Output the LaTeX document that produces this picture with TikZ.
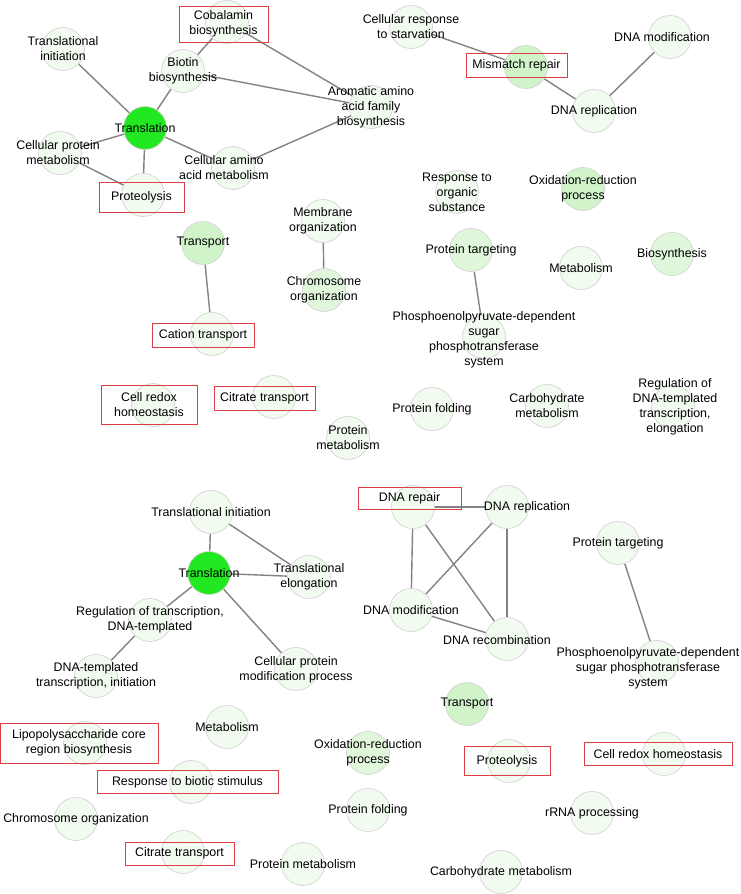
\documentclass[tikz,border=0pt]{standalone}
\usepackage{fontspec}
\setmainfont{Liberation Sans}
\usetikzlibrary{backgrounds}

\definecolor{hitgreen}{RGB}{34,232,34}
\definecolor{midgreen}{RGB}{208,243,202}
\definecolor{lowgreen}{RGB}{224,247,220}
\definecolor{palegreen}{RGB}{242,251,240}
\definecolor{ringgray}{RGB}{212,212,212}
\definecolor{edgegray}{RGB}{130,130,130}
\definecolor{boxred}{RGB}{222,62,68}

\begin{document}
\begin{tikzpicture}[
            x=1pt, y=-1pt,
            term/.style = {circle, draw=ringgray, line width=0.7pt, fill=palegreen, minimum size=43pt, inner sep=0pt},
            hit/.style = {term, fill=hitgreen},
            mid/.style = {term, fill=midgreen},
            low/.style = {term, fill=lowgreen},
            lbl/.style = {align=center, inner sep=0pt, font=\fontsize{12.4}{15}\selectfont},
            boxed/.style 2 args = {draw=boxred, line width=0.9pt, minimum width=#1, minimum height=#2},
            edge/.style = {draw=edgegray, line width=1.4pt}
        ]
        \useasboundingbox (0,0) rectangle (740,894);

        % Upper network
        \node [term, label={[lbl, boxed={89pt}{36pt}, xshift=-3.5pt, yshift=-2pt]center:Cobalamin\\biosynthesis}] (a-cob) at (227,22) {};
        \node [term, label={[lbl]center:Translational\\initiation}] (a-tinit) at (63,49) {};
        \node [term, label={[lbl]center:Biotin\\biosynthesis}] (a-bio) at (183,71) {};
        \node [term, label={[lbl]center:Aromatic amino\\acid family\\biosynthesis}] (a-aro) at (371,107) {};
        \node [hit, label={[lbl]center:Translation}] (a-trl) at (145,128) {};
        \node [term, label={[lbl, xshift=-2pt]center:Cellular protein\\metabolism}] (a-cpm) at (60,153) {};
        \node [term, label={[lbl, xshift=-9pt]center:Cellular amino\\acid metabolism}] (a-cam) at (233,168) {};
        \node [term, label={[lbl, boxed={85pt}{30pt}, xshift=-1.5pt, yshift=-2pt]center:Proteolysis}] (a-prot) at (143,195) {};
        \node [term, label={[lbl]center:Cellular response\\to starvation}] (a-starv) at (411,27) {};
        \node [mid, label={[lbl, boxed={101pt}{24pt}, xshift=-9.5pt, yshift=2pt]center:Mismatch repair}] (a-mmr) at (526,67) {};
        \node [term, label={[lbl, xshift=-8pt]center:DNA modification}] (a-dmod) at (670,37) {};
        \node [term, label={[lbl]center:DNA replication}] (a-drep) at (594,111) {};
        \node [term, label={[lbl]center:Response to\\organic\\substance}] (a-org) at (457,192) {};
        \node [mid, label={[lbl]center:Oxidation-reduction\\process}] (a-redox) at (583,189) {};
        \node [mid, label={[lbl]center:Transport}] (a-trans) at (203,243) {};
        \node [term, label={[lbl, boxed={102pt}{24pt}, xshift=-9pt, yshift=-1pt]center:Cation transport}] (a-cat) at (212,334) {};
        \node [term, label={[lbl]center:Membrane\\organization}] (a-memb) at (323,221) {};
        \node [low, label={[lbl]center:Chromosome\\organization}] (a-chrom) at (324,290) {};
        \node [term, label={[lbl, boxed={96pt}{39pt}, xshift=-4pt]center:Cell redox\\homeostasis}] (a-crh) at (153,405) {};
        \node [term, label={[lbl, boxed={101pt}{24pt}, xshift=-9.5pt, yshift=-1pt]center:Citrate transport}] (a-cit) at (274,397) {};
        \node [term, label={[lbl]center:Protein\\metabolism}] (a-pmet) at (348,438) {};
        \node [low, label={[lbl]center:Protein targeting}] (a-ptar) at (471,250) {};
        \node [term, label={[lbl]center:Metabolism}] (a-met) at (581,268) {};
        \node [low, label={[lbl]center:Biosynthesis}] (a-bios) at (672,254) {};
        \node [term, label={[lbl, yshift=-3pt]center:Phosphoenolpyruvate-dependent\\sugar\\phosphotransferase\\system}] (a-pts) at (484,337) {};
        \node [term, label={[lbl]center:Protein folding}] (a-fold) at (432,409) {};
        \node [term, label={[lbl]center:Carbohydrate\\metabolism}] (a-carb) at (547,406) {};
        \node [term, label={[lbl, xshift=2pt]center:Regulation of\\DNA-templated\\transcription,\\elongation}] (a-elong) at (673,407) {};

        % Lower network
        \node [term, label={[lbl]center:Translational initiation}] (b-tinit) at (211,512) {};
        \node [hit, label={[lbl]center:Translation}] (b-trl) at (209,573) {};
        \node [term, label={[lbl]center:Translational\\elongation}] (b-telong) at (309,577) {};
        \node [term, label={[lbl]center:Regulation of transcription,\\DNA-templated}] (b-reg) at (150,620) {};
        \node [term, label={[lbl]center:DNA-templated\\transcription, initiation}] (b-dtinit) at (96,676) {};
        \node [term, label={[lbl, yshift=-1pt]center:Cellular protein\\modification process}] (b-cpmp) at (296,669) {};
        \node [term, label={[lbl, boxed={103pt}{22pt}, xshift=-3.5pt, yshift=9pt]center:DNA repair}] (b-repair) at (413,507) {};
        \node [term, label={[lbl, xshift=20pt]center:DNA replication}] (b-drep) at (507,507) {};
        \node [term, label={[lbl]center:DNA modification}] (b-dmod) at (411,610) {};
        \node [term, label={[lbl, xshift=-10pt, yshift=-1pt]center:DNA recombination}] (b-drec) at (507,639) {};
        \node [term, label={[lbl]center:Protein targeting}] (b-ptar) at (618,543) {};
        \node [term, label={[lbl, xshift=-9pt, yshift=-6pt]center:Phosphoenolpyruvate-dependent\\sugar phosphotransferase\\system}] (b-pts) at (657,662) {};
        \node [term, label={[lbl]center:Metabolism}] (b-met) at (227,727) {};
        \node [term, label={[lbl, boxed={158pt}{40pt}, xshift=-6pt]center:Lipopolysaccharide core\\region biosynthesis}] (b-lps) at (85,743) {};
        \node [term, label={[lbl, boxed={181pt}{23pt}, xshift=-3.5pt]center:Response to biotic stimulus}] (b-biot) at (191,782) {};
        \node [term, label={[lbl]center:Chromosome organization}] (b-chrom) at (76,819) {};
        \node [term, label={[lbl, boxed={109pt}{23pt}, xshift=-3.5pt, yshift=-1.5pt]center:Citrate transport}] (b-cit) at (183,852) {};
        \node [term, label={[lbl]center:Protein metabolism}] (b-pmet) at (303,864) {};
        \node [mid, label={[lbl]center:Transport}] (b-trans) at (467,704) {};
        \node [low, label={[lbl]center:Oxidation-reduction\\process}] (b-redox) at (368,753) {};
        \node [term, label={[lbl, boxed={86pt}{29pt}, xshift=-2pt]center:Proteolysis}] (b-prot) at (509,761) {};
        \node [term, label={[lbl, boxed={148pt}{23pt}, xshift=-6pt]center:Cell redox homeostasis}] (b-crh) at (664,754) {};
        \node [term, label={[lbl]center:Protein folding}] (b-fold) at (368,810) {};
        \node [term, label={[lbl]center:rRNA processing}] (b-rrna) at (592,813) {};
        \node [term, label={[lbl]center:Carbohydrate metabolism}] (b-carb) at (501,872) {};

        % Edges, kept under the circles
        \begin{scope}[on background layer]
            \draw [edge] (a-trl) -- (a-tinit);
            \draw [edge] (a-trl) -- (a-bio);
            \draw [edge] (a-bio) -- (a-cob);
            \draw [edge] (a-bio) -- (a-aro);
            \draw [edge] (a-cob) -- (a-aro);
            \draw [edge] (a-trl) -- (a-cpm);
            \draw [edge] (a-trl) -- (a-prot);
            \draw [edge] (a-trl) -- (a-cam);
            \draw [edge] (a-cam) -- (a-aro);
            \draw [edge] (a-cpm) -- (a-prot);
            \draw [edge] (a-starv) -- (a-mmr);
            \draw [edge] (a-mmr) -- (a-drep);
            \draw [edge] (a-drep) -- (a-dmod);
            \draw [edge] (a-trans) -- (a-cat);
            \draw [edge] (a-memb) -- (a-chrom);
            \draw [edge] (a-ptar) -- (a-pts);

            \draw [edge] (b-trl) -- (b-tinit);
            \draw [edge] (b-tinit) -- (b-telong);
            \draw [edge] (b-trl) -- (b-telong);
            \draw [edge] (b-trl) -- (b-reg);
            \draw [edge] (b-reg) -- (b-dtinit);
            \draw [edge] (b-trl) -- (b-cpmp);
            \draw [edge] (b-repair) -- (b-drep);
            \draw [edge] (b-repair) -- (b-dmod);
            \draw [edge] (b-repair) -- (b-drec);
            \draw [edge] (b-drep) -- (b-dmod);
            \draw [edge] (b-drep) -- (b-drec);
            \draw [edge] (b-dmod) -- (b-drec);
            \draw [edge] (b-ptar) -- (b-pts);
        \end{scope}

    \end{tikzpicture}
\end{document}
